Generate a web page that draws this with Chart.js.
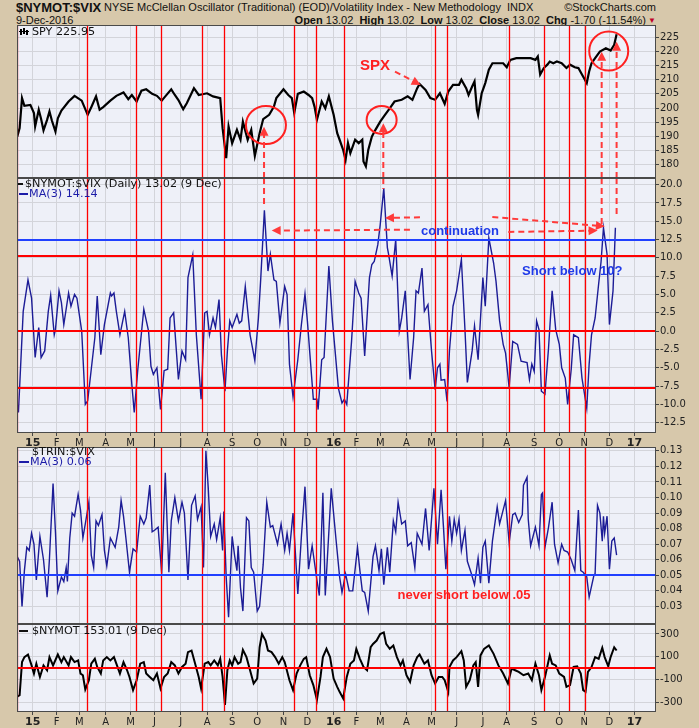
<!DOCTYPE html>
<html>
<head>
<meta charset="utf-8">
<script src="https://cdn.jsdelivr.net/npm/chart.js@4.4.0/dist/chart.umd.min.js"></script>
<style>
  body { margin: 0; width: 699px; height: 728px; overflow: hidden; position: relative;
         background: #d7c8ab; font-family: "Liberation Sans", Arial, sans-serif; color: #111; }
  canvas { position: absolute; left: 0; }
  .hdr { position: absolute; white-space: nowrap; line-height: 12px; }
</style>
</head>
<body>
<div class="hdr" style="left:16px;top:1px;font-size:13px;line-height:14px;font-weight:bold;">$NYMOT:$VIX</div>
<div class="hdr" style="left:104px;top:1px;font-size:11px;">NYSE McClellan Oscillator (Traditional) (EOD)/Volatility Index - New Methodology&nbsp;&nbsp;INDX</div>
<div class="hdr" style="right:43px;top:1px;font-size:11px;">©StockCharts.com</div>
<div class="hdr" style="left:16px;top:14px;font-size:11px;">9-Dec-2016</div>
<div class="hdr" style="right:53px;top:14px;font-size:11px;"><b>Open</b> 13.02&nbsp; <b>High</b> 13.02&nbsp; <b>Low</b> 13.02&nbsp; <b>Close</b> 13.02&nbsp; <b>Chg</b> -1.70 (-11.54%)</div>
<div class="hdr" style="right:43px;top:15px;font-size:8px;color:#c0002a;">&#9660;</div>

<script>
// x is counted in trading sessions (0 = 26 Dec 2014)
var monthDays   = [4, 24, 43, 65, 86, 106, 128, 150, 171, 192, 214, 234, 256, 275, 295, 317, 338, 359, 381, 401, 424, 445, 466, 487, 508];
var monthLabels = ['15','F','M','A','M','J','J','A','S','O','N','D','16','F','M','A','M','J','J','A','S','O','N','D','17'];
var redLineDays = [-9, 49.7, 90.7, 111.6, 146, 164.2, 223, 241.5, 264.9, 341.1, 351.2, 403.1, 432.2, 453.4, 466.8];

// SPY
var spyDays  = [-9,-7,-5,-3,2,5,6,9,11,13,16,18,20,23,25,28,34,39,45,50,53,57,60,63,69,74,80,84,87,91,95,99,104,108,112,115,120,123,126,130,133,137,139,143,150,155,161,163,166,168,171,175,178,180,184,187,190,194,197,202,206,208,214,218,221,223,226,231,235,238,240,242,246,249,252,256,259,261,264,266,268,270,274,277,280,281,283,285,288,291,295,299,303,307,313,318,322,326,328,333,337,341,345,349,352,356,361,363,367,369,372,374,376,377,380,383,386,389,393,398,401,404,409,415,421,425,427,429,432,435,437,440,443,447,451,454,458,461,464,468,470,472,475,479,484,488,491,493];
var spyClose = [189.9,192.9,203.5,200.8,201.1,198.2,193.5,199.4,196.1,192.1,195.8,198.8,195.6,191.7,196.4,199.1,202.3,204.3,202.6,197.6,200.3,204.1,199.4,200.3,202.6,204.3,205.5,203.1,204.6,202.3,206.1,206.6,205.0,204.3,202.6,204.1,206.6,204.6,202.8,199.6,201.7,205.2,207.0,204.6,205.2,204.1,203.5,192.9,182.3,193.5,187.6,192.3,188.8,195.2,188.8,192.3,183.1,191.1,196.1,197.6,200.5,203.5,206.6,204.6,203.5,198.2,205.0,205.8,204.6,203.5,200.5,195.8,202.3,199.9,204.1,197.6,191.1,188.8,185.2,181.7,187.6,184.1,188.8,187.6,188.8,181.1,179.4,185.2,189.9,192.3,195.2,197.6,199.9,202.3,202.9,204.1,202.9,207.0,208.5,206.4,203.5,202.9,205.2,201.5,205.8,208.2,208.2,210.0,207.0,204.6,207.6,209.4,199.4,197.6,205.2,208.8,213.5,215.8,215.8,215.8,214.4,217.0,217.6,217.6,217.6,217.0,218.2,211.8,214.1,215.3,216.4,215.8,216.4,215.8,214.1,215.3,214.4,214.1,211.8,208.8,212.9,215.8,217.6,219.9,221.1,220.3,222.3,226.0];
var spyTicks = [180, 185, 190, 195, 200, 205, 210, 215, 220, 225];

// $NYMOT:$VIX, MA(3)
var oscDays = [-9,-8,-4,0,3,6,9,11,14,17,19,22,23,26,28,30,34,36,39,41,45,48,50,53,56,58,61,64,69,70,72,74,77,81,84,87,89,92,97,101,103,105,108,111,114,117,119,122,126,129,132,134,138,141,145,148,150,152,155,157,160,162,165,167,169,171,175,177,179,182,186,190,193,195,198,201,203,206,208,211,215,217,219,222,226,229,232,234,239,242,243,246,248,252,255,260,263,265,267,271,274,277,279,282,286,288,290,293,295,298,301,302,305,308,311,313,316,320,323,325,327,330,332,335,338,341,343,345,346,349,351,353,356,359,363,366,368,372,374,377,381,383,386,390,392,395,398,400,403,406,410,413,418,420,422,424,426,428,430,433,436,439,442,445,447,450,452,455,457,461,464,468,470,472,475,478,480,482,485,487,490,492];
var oscMA   = [-10.0,-11.1,2.7,7.0,4.5,-3.6,0.5,-3.6,-2.7,2.7,4.9,-0.5,0.2,5.5,3.9,0.9,5.2,3.4,5.0,4.5,0,-10.0,-9.5,-5.2,-0.9,4.8,-3.2,0.9,5.2,4.8,5.2,2.7,-0.5,2.7,-0.9,-7.3,-11.1,-5.2,3.0,0,-4.8,-5.9,-5.0,-10.7,-5.4,-5.2,1.8,2.5,-6.6,-2.7,-3.9,7.3,10.4,-0.5,-9.3,2.5,2.7,-0.5,1.8,0.5,4.3,-3.2,-8.2,-2.7,1.4,0.5,2.3,1.1,1.4,6.1,-0.5,-4.0,1.8,7.3,16.5,8.2,10.5,7.0,6.8,1.1,6.1,5.0,-4.5,-9.0,-3.9,0.9,5.1,1.4,-9.3,-9.3,-10.7,-3.9,-3.6,8.9,1.4,-7.8,-9.8,-9.3,-10.0,-1.4,6.8,5.2,4.5,-3.4,7.3,9.1,9.5,11.8,14.5,19.5,11.4,10.5,7.5,12.5,0,1.8,5.5,-6.6,-0.9,5.5,5.2,8.6,2.7,3.6,-2.7,-8.0,-5.0,-4.5,-6.7,-6.6,-9.6,-2.7,3.4,5.5,9.8,0.2,-7.0,-2.7,0.7,-3.9,7.3,3.4,12.7,9.3,6.8,1.4,-1.8,-3.0,-7.7,-1.4,-1.8,-4.1,-4.3,-6.6,-4.5,-5.5,1.4,0.2,-8.2,-8.6,-2.3,5.5,0.2,-1.8,-5.0,-6.4,-10.0,-5.2,-0.5,-0.9,-6.4,-10.5,-4.5,-0.5,1.8,6.5,9.5,14.1,10.5,0.9,5.5,14.1];
var oscTicks = [-12.5, -10, -7.5, -5, -2.5, 0, 2.5, 5, 7.5, 10, 12.5, 15, 17.5, 20];

// $TRIN:$VIX, MA(3)
var trinDays = [-9,-7,-5,-3,-1,1,3,5,7,10,13,16,18,21,23,25,28,30,32,33,35,37,39,42,44,46,48,51,53,55,57,59,62,64,66,69,73,76,78,80,82,85,88,91,94,97,99,102,104,106,109,112,115,118,120,123,126,129,131,134,137,140,142,145,147,149,151,153,156,158,161,163,164,166,168,171,173,175,176,178,180,183,185,187,189,192,194,197,200,203,205,209,212,215,217,219,222,226,229,232,235,238,242,244,247,249,252,254,258,261,263,266,269,272,276,278,280,282,285,289,291,294,296,298,301,303,306,308,310,313,316,318,321,324,326,330,333,336,340,343,346,348,350,353,355,357,359,361,363,366,368,371,374,377,379,381,383,386,389,393,395,400,403,406,408,411,414,415,418,419,421,425,428,430,431,433,436,439,441,444,447,449,452,455,458,461,463,465,468,470,474,475,477,479,481,482,483,485,487,489,491,493];
var trinMA   = [0.062,0.059,0.030,0.053,0.068,0.066,0.077,0.070,0.047,0.075,0.060,0.036,0.061,0.109,0.078,0.040,0.049,0.046,0.055,0.046,0.074,0.090,0.088,0.102,0.092,0.074,0.083,0.097,0.063,0.055,0.085,0.082,0.089,0.066,0.056,0.074,0.068,0.081,0.098,0.088,0.074,0.052,0.067,0.065,0.088,0.083,0.087,0.108,0.078,0.079,0.081,0.051,0.116,0.052,0.085,0.100,0.085,0.097,0.090,0.047,0.095,0.101,0.086,0.094,0.055,0.130,0.106,0.075,0.083,0.073,0.087,0.066,0.091,0.049,0.023,0.075,0.063,0.053,0.069,0.042,0.027,0.087,0.085,0.055,0.052,0.027,0.030,0.057,0.097,0.081,0.082,0.070,0.083,0.066,0.077,0.066,0.090,0.038,0.075,0.107,0.054,0.069,0.047,0.037,0.103,0.037,0.078,0.106,0.073,0.049,0.039,0.051,0.040,0.040,0.068,0.053,0.040,0.039,0.027,0.062,0.069,0.053,0.067,0.044,0.068,0.052,0.085,0.078,0.097,0.083,0.085,0.069,0.071,0.055,0.077,0.070,0.093,0.066,0.106,0.070,0.105,0.081,0.054,0.088,0.072,0.086,0.077,0.086,0.066,0.079,0.059,0.052,0.044,0.061,0.045,0.068,0.072,0.045,0.072,0.094,0.083,0.098,0.071,0.089,0.090,0.084,0.089,0.108,0.113,0.086,0.069,0.081,0.069,0.102,0.103,0.068,0.081,0.097,0.070,0.058,0.070,0.066,0.065,0.060,0.053,0.092,0.053,0.052,0.049,0.036,0.050,0.051,0.095,0.090,0.072,0.088,0.077,0.088,0.054,0.072,0.074,0.063];
var trinTicks = [0.03, 0.04, 0.05, 0.06, 0.07, 0.08, 0.09, 0.10, 0.11, 0.12, 0.13];

// $NYMOT
var nymotDays = [-9,-7,-5,-3,0,3,5,7,10,13,16,18,21,25,28,30,34,36,39,42,44,46,48,51,53,56,58,61,63,66,69,72,74,77,80,83,85,88,91,94,97,99,102,105,108,111,114,117,120,123,126,129,132,134,137,140,143,145,148,151,153,156,159,161,163,165,167,169,171,173,176,178,180,183,186,189,192,194,196,199,201,204,207,210,213,215,219,222,225,228,231,233,236,239,242,245,247,250,253,256,259,261,264,267,270,273,275,278,281,284,287,289,292,295,298,300,303,306,309,312,314,317,320,323,326,328,332,335,338,341,344,347,349,352,353,356,359,363,365,367,370,373,375,377,379,382,386,390,394,398,402,405,408,411,415,419,422,425,428,430,433,437,439,442,445,449,451,454,457,460,463,465,467,469,472,475,478,481,483,486,488,491,493];
var nymotVals = [-253,-239,52,96,119,23,-49,38,-79,23,-20,96,23,119,52,96,23,96,52,67,-49,-64,-189,-108,38,81,9,-49,67,96,67,96,38,-49,52,-20,-79,-195,-108,38,52,-49,-79,-108,-49,-180,-79,-49,52,23,-49,9,38,140,154,38,-79,-180,38,52,23,67,23,81,-79,-326,-20,67,23,96,38,52,160,96,-20,-137,-93,183,300,242,154,140,96,38,96,52,-108,-195,-49,23,81,96,-64,-151,-282,-79,96,169,96,-93,-166,-210,-268,-79,38,67,169,81,9,-20,183,212,242,300,314,212,169,198,96,23,67,-64,-122,23,96,119,38,67,-64,-137,-80,-79,-108,-210,9,67,96,148,67,-166,-108,23,52,-166,111,169,198,125,23,-49,-137,-6,-20,-35,-64,-49,-108,38,-64,-195,-79,111,38,23,-49,-79,-166,-151,9,15,-49,-195,-210,-35,9,96,81,178,96,15,96,183,154];
var nymotTicks = [-300, -200, -100, 0, 100, 200, 300];

var RED = '#ff0000', BLUE = '#2040ff', NAVY = '#1c1c96', ANNO = '#ff3a3a';
var TICK_FONT = { family: 'DejaVu Sans', size: 10 };

function pairs(xs, ys) {
  return xs.map(function (d, i) { return { x: d, y: ys[i] }; });
}

function dashedArrow(c, x1, y1, x2, y2, head) {
  var ang = Math.atan2(y2 - y1, x2 - x1), L = head ? 8 : 0;
  c.beginPath();
  c.setLineDash([6, 4]);
  c.moveTo(x1, y1);
  c.lineTo(x2 - L * Math.cos(ang), y2 - L * Math.sin(ang));
  c.stroke();
  c.setLineDash([]);
  if (!head) return;
  var w = 4.5;
  c.beginPath();
  c.moveTo(x2, y2);
  c.lineTo(x2 - 9 * Math.cos(ang) + w * Math.sin(ang), y2 - 9 * Math.sin(ang) - w * Math.cos(ang));
  c.lineTo(x2 - 9 * Math.cos(ang) - w * Math.sin(ang), y2 - 9 * Math.sin(ang) + w * Math.cos(ang));
  c.closePath();
  c.fill();
}

var panelPlugin = {
  id: 'panel',
  beforeDraw: function (chart) {
    var a = chart.chartArea, c = chart.ctx;
    c.save();
    c.fillStyle = '#eef0f8';
    c.fillRect(a.left, a.top, a.right - a.left, a.bottom - a.top);
    c.restore();
  },
  afterDatasetsDraw: function (chart, args, o) {
    var c = chart.ctx, a = chart.chartArea, x = chart.scales.x, y = chart.scales.y;
    c.save();
    c.beginPath();
    c.rect(a.left, a.top, a.right - a.left, a.bottom - a.top);
    c.clip();

    // vertical red markers
    c.strokeStyle = RED; c.lineWidth = 1.3;
    redLineDays.forEach(function (d) {
      var px = Math.round(x.getPixelForValue(d)) + 0.5;
      c.beginPath(); c.moveTo(px, a.top); c.lineTo(px, a.bottom); c.stroke();
    });
    // horizontal levels
    (o.hLines || []).forEach(function (h) {
      var py = Math.round(y.getPixelForValue(h.v));
      c.strokeStyle = h.color; c.lineWidth = 2;
      c.beginPath(); c.moveTo(a.left, py); c.lineTo(a.right, py); c.stroke();
    });
    // circles
    c.strokeStyle = '#ff2020'; c.lineWidth = 2;
    (o.circles || []).forEach(function (e) {
      c.beginPath();
      c.ellipse(x.getPixelForValue(e.x), y.getPixelForValue(e.y), e.rx, e.ry, 0, 0, Math.PI * 2);
      c.stroke();
    });
    // dashed arrows
    c.strokeStyle = ANNO; c.fillStyle = ANNO; c.lineWidth = 2;
    (o.arrows || []).forEach(function (r) {
      dashedArrow(c, x.getPixelForValue(r.x1), y.getPixelForValue(r.y1),
                     x.getPixelForValue(r.x2), y.getPixelForValue(r.y2), r.head);
    });
    // notes
    c.textAlign = 'center'; c.textBaseline = 'middle';
    (o.notes || []).forEach(function (n) {
      c.font = n.font; c.fillStyle = n.color;
      c.fillText(n.text, x.getPixelForValue(n.x), y.getPixelForValue(n.y));
    });
    c.restore();

    // frame
    c.save();
    c.strokeStyle = '#4a4a4a'; c.lineWidth = 1;
    c.strokeRect(a.left + 0.5, a.top + 0.5, a.right - a.left - 1, a.bottom - a.top - 1);

    // legend rows
    c.font = '11.2px "DejaVu Sans"'; c.textAlign = 'left'; c.textBaseline = 'middle';
    (o.legend || []).forEach(function (l) {
      var ly = a.top + l.dy;
      if (l.mark === 'icon') {
        c.fillStyle = '#000';
        c.fillRect(a.left + 3, ly - 3, 2, 6); c.fillRect(a.left + 6, ly - 4, 2, 6);
        c.fillRect(a.left + 9, ly - 2, 2, 5); c.fillRect(a.left + 2, ly - 1, 10, 1);
      } else if (l.mark) {
        c.fillStyle = l.color;
        c.fillRect(a.left + l.m0, ly - 1, l.m1 - l.m0, 2);
      }
      c.fillStyle = l.color;
      c.fillText(l.text, a.left + l.dx, ly + 0.5);
    });
    c.restore();
  }
};

function makePanel(p) {
  var pad = 8, xh = p.xAxisHeight || 0;
  var cv = document.createElement('canvas');
  cv.width = 699;
  cv.height = (p.bottom - p.top) + pad + (xh || pad);
  cv.style.top = (p.top - pad) + 'px';
  document.body.appendChild(cv);
  return new Chart(cv, {
    type: 'line',
    data: { datasets: [{ data: p.data, borderColor: p.color, borderWidth: p.width, pointRadius: 0, tension: 0 }] },
    plugins: [panelPlugin],
    options: {
      responsive: false, animation: false, devicePixelRatio: 1,
      layout: { padding: { left: 17, right: 0, top: pad, bottom: xh ? 0 : pad } },
      plugins: { legend: { display: false }, tooltip: { enabled: false }, panel: p.panel },
      scales: {
        x: {
          type: 'linear', min: -9.2, max: 526,
          afterBuildTicks: function (s) { s.ticks = monthDays.map(function (v) { return { value: v }; }); },
          afterFit: function (s) { s.height = xh; },
          border: { display: false },
          grid: { color: '#d3d4da', lineWidth: 1, drawTicks: xh > 0, tickLength: 3, tickColor: '#444' },
          ticks: {
            display: xh > 0, autoSkip: false, maxRotation: 0, padding: 1, color: '#222',
            font: function (ctx) {
              var yr = ctx.index % 12 === 0;
              return { family: 'DejaVu Sans', size: yr ? 11 : 10, weight: yr ? 'bold' : 'normal' };
            },
            callback: function (v, i) { return monthLabels[i]; }
          }
        },
        y: {
          position: 'right', min: p.min, max: p.max,
          afterBuildTicks: function (s) { s.ticks = p.ticks.map(function (v) { return { value: v }; }); },
          afterFit: function (s) { s.width = 43; },
          border: { display: false },
          grid: { color: '#d3d4da', lineWidth: 1, tickLength: 3, tickColor: '#444' },
          ticks: { color: '#222', padding: 1, font: TICK_FONT, callback: p.fmt }
        }
      }
    }
  });
}

// SPY panel
makePanel({
  top: 25, bottom: 178, min: 175.3, max: 229.3, ticks: spyTicks,
  fmt: function (v) { return String(v); },
  data: pairs(spyDays, spyClose), color: '#000', width: 2.2,
  panel: {
    legend: [{ text: 'SPY 225.95', color: '#111', mark: 'icon', dx: 15, dy: 7 }],
    circles: [
      { x: 199.3, y: 194.0, rx: 20, ry: 19 },
      { x: 296.2, y: 195.8, rx: 15, ry: 14 },
      { x: 486.4, y: 220.1, rx: 19.5, ry: 19.5 }
    ],
    arrows: [
      { x1: 197.7, y1: 175.3, x2: 197.7, y2: 193.4, head: true },
      { x1: 297.6, y1: 175.3, x2: 297.6, y2: 194.6, head: true },
      { x1: 480.5, y1: 175.3, x2: 480.5, y2: 219.9, head: true },
      { x1: 493.0, y1: 175.3, x2: 493.0, y2: 223.4, head: true },
      { x1: 307.4, y1: 212.85, x2: 328.9, y2: 208.15, head: true }
    ],
    notes: [{ text: 'SPX', x: 290.6, y: 215.0, color: '#ff2020', font: 'bold 15px "Liberation Sans"' }]
  }
});

// $NYMOT:$VIX panel
makePanel({
  top: 178, bottom: 433, xAxisHeight: 14, min: -13.9, max: 20.9, ticks: oscTicks,
  fmt: function (v) { return v.toFixed(1); },
  data: pairs(oscDays, oscMA), color: NAVY, width: 1.4,
  panel: {
    legend: [
      { text: '$NYMOT:$VIX (Daily) 13.02 (9 Dec)', color: '#111', mark: true, m0: 1, m1: 6, dx: 8, dy: 6 },
      { text: 'MA(3) 14.14', color: '#1c1ca8', mark: true, m0: 2, m1: 11, dx: 12, dy: 16 }
    ],
    hLines: [
      { v: 12.5, color: BLUE }, { v: 10.25, color: RED }, { v: 0, color: RED }, { v: -7.7, color: RED }
    ],
    arrows: [
      { x1: 197.7, y1: 20.9, x2: 197.7, y2: 16.8 },
      { x1: 297.6, y1: 20.9, x2: 297.6, y2: 19.4 },
      { x1: 480.5, y1: 20.9, x2: 480.5, y2: 14.1 },
      { x1: 493.0, y1: 20.9, x2: 493.0, y2: 15.5 },
      { x1: 319.9, y1: 13.85, x2: 204.1, y2: 13.72, head: true },
      { x1: 328.3, y1: 15.54, x2: 299.0, y2: 15.45, head: true },
      { x1: 388.9, y1: 15.58, x2: 483.2, y2: 14.31, head: true },
      { x1: 402.3, y1: 13.54, x2: 477.1, y2: 13.72, head: true }
    ],
    notes: [
      { text: 'continuation', x: 361.8, y: 13.63, color: '#1f3ae8', font: 'bold 13px "Liberation Sans"' },
      { text: 'Short below 10?', x: 455.9, y: 8.18, color: '#1f3ae8', font: 'bold 13px "Liberation Sans"' }
    ]
  }
});

// $TRIN:$VIX panel
makePanel({
  top: 447, bottom: 624, min: 0.0187, max: 0.1325, ticks: trinTicks,
  fmt: function (v) { return v.toFixed(2); },
  data: pairs(trinDays, trinMA), color: NAVY, width: 1.4,
  panel: {
    legend: [
      { text: '$TRIN:$VIX', color: '#111', dx: 15, dy: 5 },
      { text: 'MA(3) 0.06', color: '#1c1ca8', mark: true, m0: 2, m1: 12, dx: 13, dy: 15 }
    ],
    hLines: [{ v: 0.05, color: BLUE }],
    notes: [{ text: 'never short below .05', x: 365.2, y: 0.0368, color: '#ff2020', font: 'bold 13px "Liberation Sans"' }]
  }
});

// $NYMOT panel
makePanel({
  top: 624, bottom: 712, xAxisHeight: 16, min: -388, max: 388, ticks: nymotTicks,
  fmt: function (v) { return String(v); },
  data: pairs(nymotDays, nymotVals), color: '#000', width: 2,
  panel: {
    legend: [{ text: '$NYMOT 153.01 (9 Dec)', color: '#111', mark: true, m0: 2, m1: 11, dx: 15, dy: 7 }],
    hLines: [{ v: 0, color: RED }]
  }
});
</script>
</body>
</html>
